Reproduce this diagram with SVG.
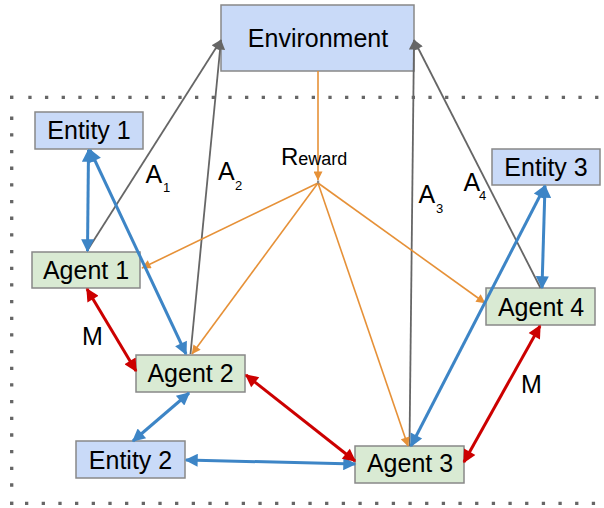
<svg xmlns="http://www.w3.org/2000/svg" width="604" height="508" viewBox="0 0 604 508">
<style>
  text { font-family: "Liberation Sans", Arial, sans-serif; fill: #000; }
  .lbl { font-size: 25px; text-anchor: middle; }
  .sub { font-size: 13px; }
  .big { font-size: 25px; }
  .blue rect { fill: #c9daf8; stroke: #888; stroke-width: 1.5; }
  .green rect { fill: #d9ead3; stroke: #888; stroke-width: 1.5; }
  .g { stroke: #666; stroke-width: 1.8; fill: none; marker-end: url(#mg); }
  .o { stroke: #e69138; stroke-width: 1.6; fill: none; marker-end: url(#mo); }
  .b { stroke: #3d85c6; stroke-width: 3; fill: none; marker-start: url(#mb); marker-end: url(#mb); }
  .r { stroke: #cc0000; stroke-width: 3; fill: none; marker-start: url(#mr); marker-end: url(#mr); }
  .dots { stroke: #666; stroke-width: 3.3; fill: none; stroke-dasharray: 3.3 13.37; }
</style>
<defs>
  <marker id="mg" viewBox="0 0 10 10" refX="9.5" refY="5" markerWidth="13" markerHeight="10" markerUnits="userSpaceOnUse" orient="auto-start-reverse"><path d="M0,0 L10,5 L0,10 z" fill="#666"/></marker>
  <marker id="mo" viewBox="0 0 10 10" refX="9.5" refY="5" markerWidth="12" markerHeight="9" markerUnits="userSpaceOnUse" orient="auto-start-reverse"><path d="M0,0 L10,5 L0,10 z" fill="#e69138"/></marker>
  <marker id="mb" viewBox="0 0 10 10" refX="9" refY="5" markerWidth="16" markerHeight="13" markerUnits="userSpaceOnUse" orient="auto-start-reverse"><path d="M0,0 L10,5 L0,10 z" fill="#3d85c6"/></marker>
  <marker id="mr" viewBox="0 0 10 10" refX="9" refY="5" markerWidth="16" markerHeight="13" markerUnits="userSpaceOnUse" orient="auto-start-reverse"><path d="M0,0 L10,5 L0,10 z" fill="#cc0000"/></marker>
</defs>

<g id="boundary">
  <path class="dots" d="M28.3 97.3 H604"/>
  <path class="dots" d="M11.7 116.6 V500"/>
  <path class="dots" d="M25 503.3 H604"/>
  <rect x="10" y="95.6" width="3.4" height="3.4" fill="#666"/>
  <rect x="10" y="501.6" width="3.4" height="3.4" fill="#666"/>
</g>

<g id="environment" class="blue">
  <rect x="221" y="5" width="193" height="66"/>
  <text class="lbl" x="318" y="46.5">Environment</text>
</g>
<g id="entity1" class="blue">
  <rect x="35" y="112" width="108" height="37"/>
  <text class="lbl" x="89" y="139.3">Entity 1</text>
</g>
<g id="entity2" class="blue">
  <rect x="76" y="441" width="109" height="37"/>
  <text class="lbl" x="130.5" y="469">Entity 2</text>
</g>
<g id="entity3" class="blue">
  <rect x="492" y="149" width="108" height="36"/>
  <text class="lbl" x="546" y="175.7">Entity 3</text>
</g>
<g id="agent1" class="green">
  <rect x="32" y="252" width="108" height="36"/>
  <text class="lbl" x="86" y="279">Agent 1</text>
</g>
<g id="agent2" class="green">
  <rect x="136" y="355" width="109" height="37"/>
  <text class="lbl" x="190.5" y="382.3">Agent 2</text>
</g>
<g id="agent3" class="green">
  <rect x="355" y="446" width="109" height="37"/>
  <text class="lbl" x="410" y="472.3">Agent 3</text>
</g>
<g id="agent4" class="green">
  <rect x="486" y="288" width="109" height="37"/>
  <text class="lbl" x="541" y="315.7">Agent 4</text>
</g>

<g id="connectors">
  <!-- actions -->
  <line class="g" x1="87" y1="251" x2="221" y2="40"/>
  <line class="g" x1="190.5" y1="354" x2="221" y2="40"/>
  <line class="g" x1="409.5" y1="446" x2="414" y2="40"/>
  <line class="g" x1="540.5" y1="288" x2="414" y2="40"/>
  <!-- reward -->
  <line class="o" x1="318" y1="71" x2="318" y2="180"/>
  <line class="o" x1="318" y1="183" x2="142" y2="268"/>
  <line class="o" x1="318" y1="183" x2="192" y2="354"/>
  <line class="o" x1="318" y1="183" x2="408" y2="446"/>
  <line class="o" x1="318" y1="183" x2="485" y2="303"/>
  <rect x="317" y="180.5" width="2.2" height="3" fill="#888"/>
  <!-- entity links -->
  <line class="b" x1="88.5" y1="150" x2="87.5" y2="251"/>
  <line class="b" x1="90" y1="150" x2="186" y2="354"/>
  <line class="b" x1="189" y1="393" x2="133" y2="441"/>
  <line class="b" x1="186" y1="460" x2="355" y2="464"/>
  <line class="b" x1="411" y1="446" x2="545" y2="186"/>
  <line class="b" x1="545" y1="186" x2="542" y2="288"/>
  <!-- messages -->
  <line class="r" x1="87" y1="289" x2="136" y2="371"/>
  <line class="r" x1="246" y1="375" x2="355" y2="461"/>
  <line class="r" x1="464" y1="462" x2="540" y2="326"/>
</g>

<g id="labels">
  <text class="big" x="145.5" y="182.7">A<tspan class="sub" x="163" y="191.7">1</tspan></text>
  <text class="big" x="218" y="180">A<tspan class="sub" x="235" y="190">2</tspan></text>
  <text class="big" x="418.5" y="203.3">A<tspan class="sub" x="436" y="213">3</tspan></text>
  <text class="big" x="463.5" y="190.7">A<tspan class="sub" x="479" y="200">4</tspan></text>
  <text x="281" y="165" style="font-size:24px">R<tspan style="font-size:18px">eward</tspan></text>
  <text class="big" x="82" y="345">M</text>
  <text class="big" x="521" y="393.3">M</text>
</g>
</svg>
